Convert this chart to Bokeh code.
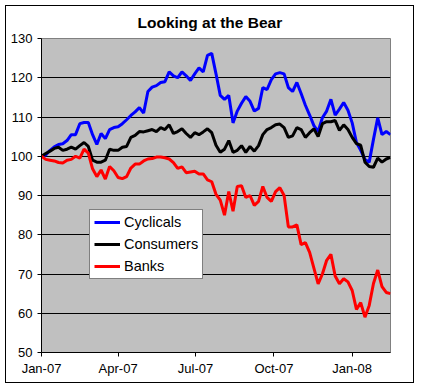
import pandas as pd
from bokeh.plotting import figure
from bokeh.models import (FixedTicker, DatetimeTickFormatter, Legend, LegendItem,
                          Range1d, ColumnDataSource)
from bokeh.embed import file_html
from bokeh.resources import INLINE

dates = pd.date_range("2007-01-01", periods=83, freq="5D")

cyclicals = [100, 100.3, 101.5, 102.4, 103, 103.2, 104, 105.5, 105.5, 108.3,
             108.6, 108.6, 105.5, 103, 105.8, 104.5, 106.8, 107.3, 107.5, 108.3,
             109.3, 110.4, 111.3, 112.4, 111, 116.5, 117.6, 118, 118.8, 119,
             121.5, 120.5, 120, 121.5, 120.5, 119.3, 121, 122.5, 121.5, 125.7,
             126.2, 121, 115.5, 114.5, 115.5, 108.5, 111.5, 113.5, 115.2, 114,
             111.5, 112.2, 117.5, 117, 119.5, 121, 121.3, 121, 117.5, 116.5,
             118.8, 116, 113, 110.5, 107.8, 106.3, 109.8, 111.5, 114.5, 110.5,
             112, 113.7, 111.7, 108.5, 103.5, 101.5, 99.2, 98.5, 104.3, 109.8,
             105.5, 106.3, 105.5]

consumers = [100, 100.7, 101.3, 102, 102.3, 101.5, 101.8, 102.3, 101.8, 102.7,
             103.5, 102.5, 99, 98.5, 98.5, 99, 101.8, 101.5, 101.5, 102.3,
             102.5, 104.8, 105.3, 106.3, 106.2, 106.5, 106.8, 106.3, 107.3, 106.8,
             108, 105.8, 106.3, 107, 105.8, 104.8, 106, 105.5, 106.2, 107,
             106, 102.8, 101, 101.8, 104, 101, 101.5, 102.7, 101, 102.5,
             101.3, 102.7, 105.5, 106.8, 107.3, 108, 108.2, 107.3, 104.8, 105.2,
             107.3, 106.8, 104.8, 106, 107, 105, 108.3, 108.8, 108.8, 109.1,
             106.6, 108, 106.8, 104.8, 103.2, 102.8, 98.5, 97.4, 97.2, 99.5,
             98.5, 99.3, 99.7]

banks = [100, 99.2, 99, 98.8, 98.4, 98.3, 99, 99.2, 100, 99.5,
         101.8, 100.8, 96.8, 94.8, 96.5, 94.2, 97.4, 96.3, 94.6, 94.3,
         94.8, 97, 98, 98, 98.8, 99.3, 99.4, 99.8, 99.8, 99.6,
         99.3, 98.4, 96.9, 97.3, 95.8, 96, 96.2, 95.5, 95.5, 94,
         93.5, 90.3, 88.8, 85, 91, 86, 92.3, 92.5, 89.5, 90,
         87.5, 88.5, 92.3, 89.5, 88.5, 91, 92, 90, 82, 82,
         82.5, 77.5, 78, 75.5, 71.5, 67.5, 70, 73.5, 75, 69.5,
         67.5, 68.8, 68, 65.8, 61, 62.7, 59, 62, 67.6, 71,
         66.8, 65.3, 65]

series_names = ["Cyclicals", "Consumers", "Banks"]
series_colors = ["#0000FF", "#000000", "#FF0000"]
x_tick_dates = ["2007-01-01", "2007-04-01", "2007-07-01", "2007-10-01", "2008-01-01"]
y_ticks = [50, 60, 70, 80, 90, 100, 110, 120, 130]
title_text = "Looking at the Bear"

FONT = "Liberation Sans"

source = ColumnDataSource(data=dict(date=dates, Cyclicals=cyclicals,
                                    Consumers=consumers, Banks=banks))

p = figure(width=409, height=378, x_axis_type="datetime",
           output_backend="svg", toolbar_location=None,
           x_range=Range1d(dates[0].to_pydatetime(), dates[-1].to_pydatetime()),
           y_range=Range1d(y_ticks[0], y_ticks[-1]),
           min_border_left=35, min_border_right=25,
           min_border_top=32, min_border_bottom=32)
p.margin = 5
p.styles = {"border": "1px solid black"}

p.title.text = title_text
p.title.align = "left"
p.title.offset = 96
p.title.vertical_align = "top"
p.title.text_font = FONT
p.title.text_font_size = "15.5px"
p.title.text_font_style = "bold"
p.title.text_color = "black"
p.title.standoff = 11

p.background_fill_color = "#C0C0C0"
p.border_fill_color = "white"
p.outline_line_color = "#808080"
p.outline_line_width = 1

p.xgrid.visible = False
p.ygrid.ticker = FixedTicker(ticks=y_ticks)
p.ygrid.grid_line_color = "black"
p.ygrid.grid_line_width = 1

p.yaxis.ticker = FixedTicker(ticks=y_ticks)
p.xaxis.ticker = FixedTicker(ticks=[pd.Timestamp(d).value / 1e6 for d in x_tick_dates])
fmt = "%b-%y"
p.xaxis.formatter = DatetimeTickFormatter(days=fmt, months=fmt, years=fmt,
                                          hours=fmt, minutes=fmt, seconds=fmt,
                                          milliseconds=fmt, microseconds=fmt,
                                          hourmin=fmt, minsec=fmt)
for ax in (p.xaxis[0], p.yaxis[0]):
    ax.axis_line_color = "black"
    ax.major_tick_line_color = "black"
    ax.minor_tick_line_color = None
    ax.major_tick_out = 4
    ax.major_tick_in = 0
    ax.major_label_text_font = FONT
    ax.major_label_text_font_size = "13px"
    ax.major_label_text_color = "black"
p.yaxis.major_label_standoff = 5
p.xaxis.major_label_standoff = 4

renderers = []
for name, col in zip(series_names, series_colors):
    r = p.line("date", name, source=source, line_color=col, line_width=3)
    renderers.append(r)

legend = Legend(items=[LegendItem(label=n, renderers=[r]) for n, r in zip(series_names, renderers)],
                location=(48, 73))
legend.label_text_font = FONT
legend.label_text_font_size = "14.5px"
legend.label_text_color = "black"
legend.glyph_width = 26
legend.glyph_height = 16
legend.label_height = 16
legend.label_standoff = 4
legend.spacing = 6
legend.padding = 4
legend.margin = 0
legend.border_line_color = "black"
legend.border_line_width = 1
legend.background_fill_color = "white"
legend.background_fill_alpha = 1
p.add_layout(legend)

open("out.html", "w").write(file_html(p, INLINE))
